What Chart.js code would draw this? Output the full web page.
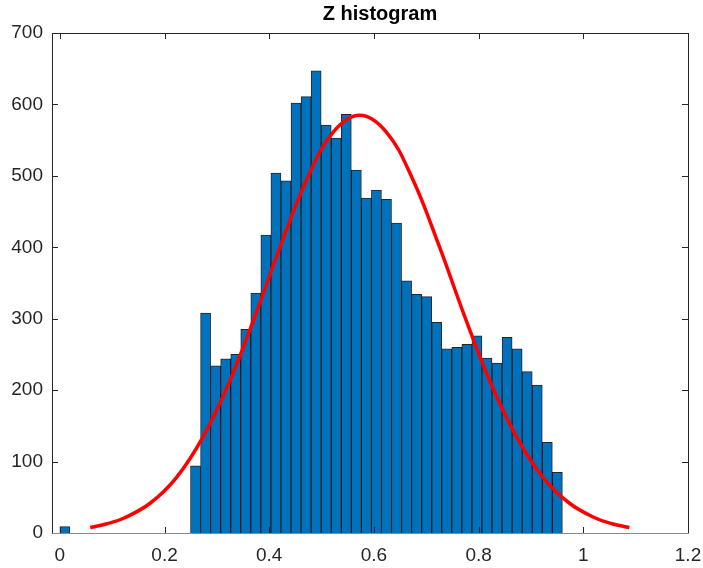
<!DOCTYPE html>
<html>
<head>
<meta charset="utf-8">
<title>Z histogram</title>
<script src="https://cdn.jsdelivr.net/npm/chart.js@4.4.1/dist/chart.umd.min.js"></script>
<style>
  html, body { margin: 0; padding: 0; background: #fff; }
  #wrap { width: 703px; height: 568px; }
</style>
</head>
<body>
<div id="wrap"><canvas id="zChart" width="703" height="568"></canvas></div>
<script>
'use strict';

// histogram bins (centres) and counts
let binCenters = [0.0096,
  0.2592, 0.2784, 0.2976, 0.3168, 0.3360, 0.3552, 0.3744, 0.3936, 0.4128, 0.4320,
  0.4512, 0.4704, 0.4896, 0.5088, 0.5280, 0.5472, 0.5664, 0.5856, 0.6048, 0.6240,
  0.6432, 0.6624, 0.6816, 0.7008, 0.7200, 0.7392, 0.7584, 0.7776, 0.7968, 0.8160,
  0.8352, 0.8544, 0.8736, 0.8928, 0.9120, 0.9312, 0.9504];
let binCounts = [9,
  94, 308, 234, 244, 250, 285, 336, 417, 504, 493,
  602, 611, 647, 571, 553, 586, 508, 469, 480, 467,
  434, 353, 334, 331, 295, 258, 260, 264, 276, 245,
  238, 274, 258, 226, 207, 127, 85];

// fitted curve, points
let fitX = [0.058, 0.09, 0.123, 0.173, 0.223, 0.273, 0.323, 0.373, 0.423, 0.473, 0.523, 0.573,
  0.623, 0.673, 0.723, 0.773, 0.823, 0.873, 0.923, 0.973, 1.023, 1.055, 1.088];
let fitY = [7.6, 13, 21, 42, 78, 134, 210, 304, 405, 497, 562, 585,
  562, 497, 405, 304, 210, 134, 78, 42, 21, 13, 7.6];

let xTicks = [0, 0.2, 0.4, 0.6, 0.8, 1, 1.2];
let yTicks = [0, 100, 200, 300, 400, 500, 600, 700];

let chartTitle = 'Z histogram';
let axisColor = '#262626';
let fontFamily = '"Liberation Sans", Arial, Helvetica, sans-serif';

function makePoints(xs, ys) {
  let pts = [];
  for (let i = 0; i < xs.length; i++) {
    pts.push({ x: xs[i], y: ys[i] });
  }
  return pts;
}

// box, inward ticks and title, MATLAB style
let matlabAxes = {
  id: 'matlabAxes',
  afterDraw(chart) {
    let ctx = chart.ctx;
    let a = chart.chartArea;
    let xs = chart.scales.x;
    let ys = chart.scales.y;
    let tl = 6;
    ctx.save();
    ctx.lineWidth = 1;
    ctx.strokeStyle = axisColor;
    ctx.beginPath();
    for (let v of xTicks) {
      let px = Math.round(xs.getPixelForValue(v)) + 0.5;
      ctx.moveTo(px, a.bottom);
      ctx.lineTo(px, a.bottom - tl);
      ctx.moveTo(px, a.top);
      ctx.lineTo(px, a.top + tl);
    }
    for (let v of yTicks) {
      let py = Math.round(ys.getPixelForValue(v)) + 0.5;
      ctx.moveTo(a.left, py);
      ctx.lineTo(a.left + tl, py);
      ctx.moveTo(a.right, py);
      ctx.lineTo(a.right - tl, py);
    }
    ctx.stroke();

    let l = Math.round(a.left) + 0.5;
    let r = Math.round(a.right) + 0.5;
    let t = Math.round(a.top) + 0.5;
    let b = Math.round(a.bottom) + 0.5;
    ctx.beginPath();
    ctx.moveTo(l, b);
    ctx.lineTo(l, t);
    ctx.lineTo(r, t);
    ctx.lineTo(r, b);
    ctx.stroke();
    ctx.strokeStyle = '#8a8a8a';
    ctx.beginPath();
    ctx.moveTo(l, b);
    ctx.lineTo(r, b);
    ctx.stroke();

    ctx.fillStyle = '#000';
    ctx.font = 'bold 20px ' + fontFamily;
    ctx.textAlign = 'center';
    ctx.textBaseline = 'middle';
    ctx.fillText(chartTitle, (a.left + a.right) / 2 + 10, 14);
    ctx.restore();
  }
};

let config = {
  type: 'bar',
  data: {
    datasets: [{
      type: 'line',
      label: 'fit',
      data: makePoints(fitX, fitY),
      borderColor: '#ff0000',
      borderWidth: 3.5,
      pointRadius: 0,
      tension: 0.4,
      fill: false,
      order: 0
    }, {
      type: 'bar',
      label: 'Z',
      data: makePoints(binCenters, binCounts),
      backgroundColor: '#0072BD',
      borderColor: 'rgba(0, 0, 0, 0.85)',
      borderWidth: 1,
      barPercentage: 1,
      categoryPercentage: 1,
      order: 1
    }]
  },
  options: {
    responsive: false,
    animation: false,
    events: [],
    layout: { padding: { top: 33, right: 15, left: 0, bottom: 0 } },
    plugins: {
      legend: { display: false },
      title: { display: false },
      tooltip: { enabled: false }
    },
    scales: {
      x: {
        type: 'linear',
        min: -0.015,
        max: 1.2,
        offset: false,
        grid: { display: false, offset: false, drawTicks: false, tickLength: 0 },
        border: { display: false },
        afterBuildTicks: function (s) { s.ticks = xTicks.map(v => ({ value: v })); },
        afterFit: function (s) {
          s.height = 35;
          s.paddingLeft = 0;
          s.paddingRight = 0;
        },
        ticks: {
          color: axisColor,
          font: { family: fontFamily, size: 19 },
          padding: 11,
          maxRotation: 0,
          callback: v => String(Math.round(v * 10) / 10)
        }
      },
      y: {
        type: 'linear',
        min: 0,
        max: 700,
        grid: { display: false, drawTicks: false, tickLength: 0 },
        border: { display: false },
        afterBuildTicks: function (s) { s.ticks = yTicks.map(v => ({ value: v })); },
        afterFit: function (s) {
          s.width = 52;
          s.paddingTop = 0;
          s.paddingBottom = 0;
        },
        ticks: {
          color: axisColor,
          font: { family: fontFamily, size: 19 },
          padding: 9
        }
      }
    }
  },
  plugins: [matlabAxes]
};

let zChart = new Chart(document.getElementById('zChart'), config);
</script>
</body>
</html>
